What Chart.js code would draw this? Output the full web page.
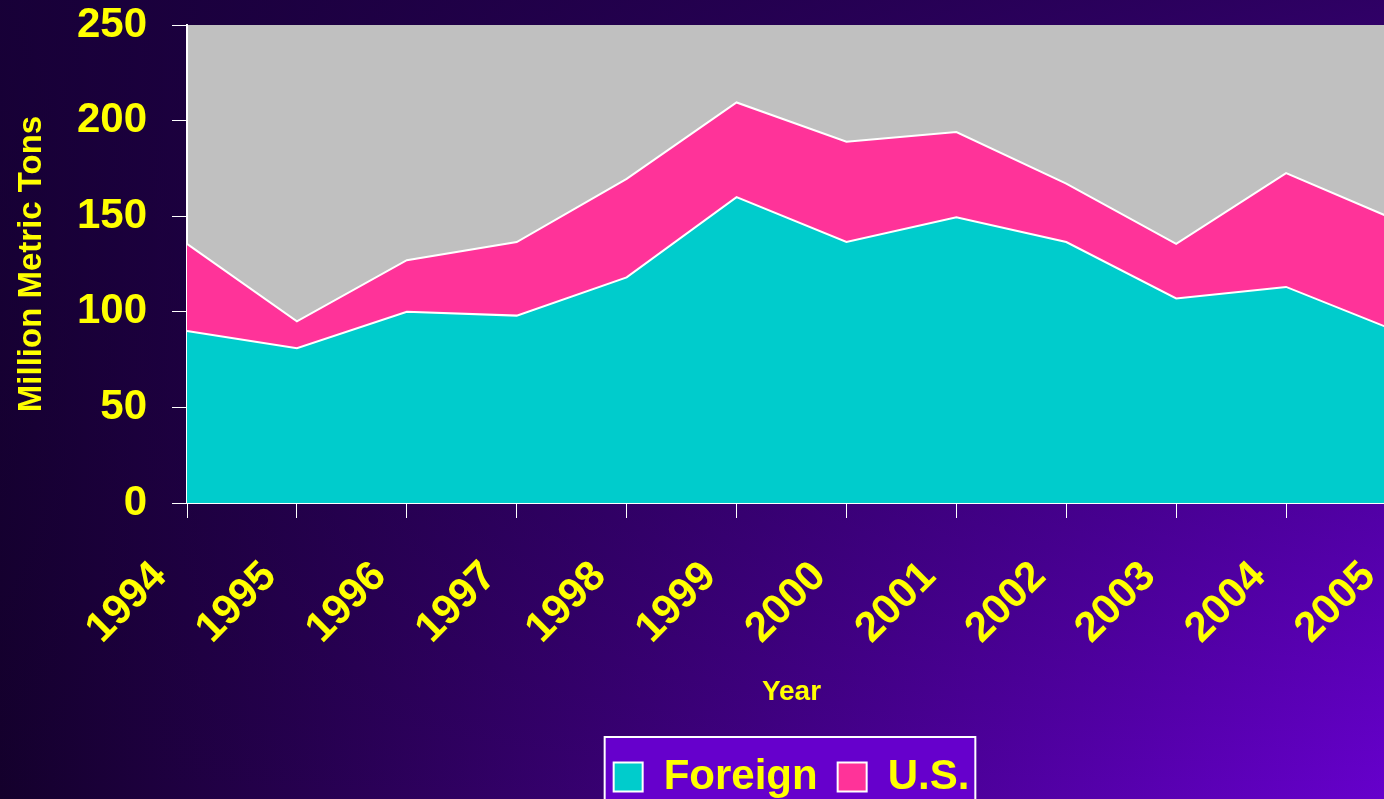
<!DOCTYPE html>
<html>
<head>
<meta charset="utf-8">
<script src="https://cdn.jsdelivr.net/npm/chart.js@4"></script>
<style>
  html, body {
    margin: 0;
    padding: 0;
    width: 1384px;
    height: 799px;
    overflow: hidden;
    background-color: #14002c;
    background-image:
      linear-gradient(to bottom, rgba(25, 0, 60, 0.72), rgba(25, 0, 60, 0)),
      linear-gradient(to right, #14002c, #6600cc);
  }
  #wrap {
    position: absolute;
    left: 0;
    top: 0;
    width: 1400px;
    height: 808px;
  }
</style>
</head>
<body>
<div id="wrap"><canvas id="chart"></canvas></div>
<script>
const years = ['1994', '1995', '1996', '1997', '1998', '1999', '2000', '2001', '2002', '2003', '2004', '2005'];
const foreign = [90, 81, 100, 98, 118, 160, 136.5, 149.5, 136.5, 107, 113, 90];
const us = [45.5, 14, 27, 38.5, 51.5, 49.5, 52.5, 44.5, 30.5, 28.5, 59.5, 58];
const yTicks = [0, 50, 100, 150, 200, 250];

const FONT = 'Arial, "Liberation Sans", Helvetica, sans-serif';
const YELLOW = '#FFFF00';

// gray plot area + the legend frame
const backdrop = {
  id: 'backdrop',
  beforeDraw(chart) {
    const ctx = chart.ctx;
    const a = chart.chartArea;
    ctx.save();
    ctx.fillStyle = '#C0C0C0';
    ctx.fillRect(a.left, a.top, a.right - a.left, a.bottom - a.top);

    const boxes = chart.legend && chart.legend.legendHitBoxes;
    if (boxes && boxes.length) {
      const left = Math.min(...boxes.map(b => b.left)) - 9;
      const right = Math.max(...boxes.map(b => b.left + b.width)) + 6;
      const top = boxes[0].top - 19;
      ctx.fillStyle = '#6600CC';
      ctx.fillRect(left, top, right - left, chart.height - top + 20);
      ctx.strokeStyle = '#FFFFFF';
      ctx.lineWidth = 2;
      ctx.strokeRect(left, top, right - left, chart.height - top + 20);
    }
    ctx.restore();
  }
};

new Chart(document.getElementById('chart'), {
  type: 'line',
  data: {
    labels: years,
    datasets: [
      {
        label: 'Foreign',
        data: foreign,
        backgroundColor: '#00CCCC',
        borderColor: '#FFFFFF',
        borderWidth: 2,
        fill: 'origin',
        pointRadius: 0,
        tension: 0,
      },
      {
        label: 'U.S.',
        data: us,
        backgroundColor: '#FF3399',
        borderColor: '#FFFFFF',
        borderWidth: 2,
        fill: '-1',
        pointRadius: 0,
        tension: 0,
      },
    ],
  },
  options: {
    responsive: true,
    maintainAspectRatio: false,
    animation: false,
    layout: { padding: { top: 25, right: 4, left: 0, bottom: 0 } },
    plugins: {
      tooltip: { enabled: false },
      legend: {
        position: 'bottom',
        fullSize: false,
        labels: {
          color: YELLOW,
          boxWidth: 29,
          boxHeight: 29,
          padding: 20,
          font: { family: FONT, size: 42, weight: 'bold' },
        },
      },
    },
    scales: {
      x: {
        afterFit(scale) {
          scale.height = 233;
          scale.paddingRight = 0;
        },
        offset: false,
        grid: {
          drawOnChartArea: false,
          drawTicks: true,
          tickLength: 15,
          color: '#FFFFFF',
        },
        border: { display: true, color: '#FFFFFF', width: 2 },
        ticks: {
          color: YELLOW,
          font: { family: FONT, size: 42, weight: 'bold' },
          minRotation: 45,
          maxRotation: 45,
          autoSkip: false,
          labelOffset: -27,
          padding: 34,
        },
        title: {
          display: true,
          text: 'Year',
          color: YELLOW,
          font: { family: FONT, size: 28, weight: 'bold' },
          padding: { top: 4, bottom: 27 },
        },
      },
      y: {
        stacked: true,
        min: 0,
        max: 250,
        afterFit(scale) {
          scale.width = 187;
          scale.paddingTop = 0;
          scale.paddingBottom = 0;
        },
        afterBuildTicks(scale) {
          scale.ticks = yTicks.map(v => ({ value: v }));
        },
        grid: {
          drawOnChartArea: false,
          drawTicks: true,
          tickLength: 15,
          color: '#FFFFFF',
        },
        border: { display: true, color: '#FFFFFF', width: 2 },
        ticks: {
          color: YELLOW,
          font: { family: FONT, size: 42, weight: 'bold' },
          padding: 25,
        },
        title: {
          display: true,
          text: 'Million Metric Tons',
          color: YELLOW,
          font: { family: FONT, size: 33, weight: 'bold' },
          padding: { top: 12, bottom: 4 },
        },
      },
    },
  },
  plugins: [backdrop],
});
</script>
</body>
</html>
